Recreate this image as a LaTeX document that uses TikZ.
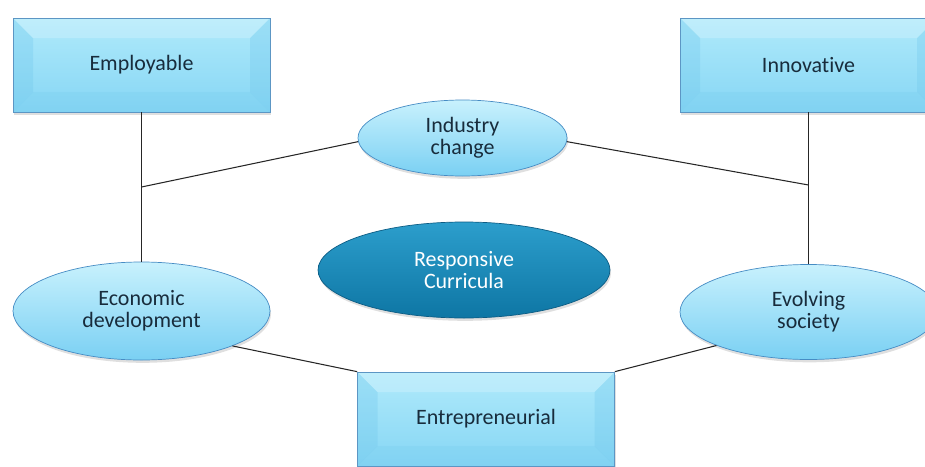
\documentclass[tikz,border=0pt]{standalone}
\usepackage{fontspec}
\setmainfont{Carlito}[Ligatures=CommonOff]
\usetikzlibrary{shapes.geometric,shadows}

\newcommand{\varbev}{0.4}
\definecolor{boxtop}{RGB}{176,234,251}
\definecolor{boxbot}{RGB}{134,214,244}
\definecolor{boxside}{RGB}{110,198,236}
\definecolor{boxedge}{RGB}{92,150,196}
\definecolor{elltop}{RGB}{200,241,253}
\definecolor{ellbot}{RGB}{122,208,243}
\definecolor{elledge}{RGB}{70,140,196}
\definecolor{coretop}{RGB}{44,158,204}
\definecolor{corebot}{RGB}{14,118,164}
\definecolor{coreedge}{RGB}{12,92,132}
\definecolor{labeltext}{RGB}{24,44,60}

\tikzset{
	goalbox/.style={rectangle, minimum width=5.14cm, minimum height=1.88cm,
		draw=boxedge, thin, top color=boxtop, bottom color=boxbot,
		text=labeltext, font=\fontsize{12.5}{12.5}\selectfont,
		drop shadow={opacity=.25, shadow xshift=.6pt, shadow yshift=-1.6pt},
		path picture={
			% bevel sides
			\fill[boxside, opacity=.3] (path picture bounding box.north west) -- ++(\varbev,-\varbev)
				-- ([shift={(\varbev,\varbev)}]path picture bounding box.south west)
				-- (path picture bounding box.south west) -- cycle;
			\fill[boxside, opacity=.3] (path picture bounding box.north east) -- ++(-\varbev,-\varbev)
				-- ([shift={(-\varbev,\varbev)}]path picture bounding box.south east)
				-- (path picture bounding box.south east) -- cycle;
			\fill[white, opacity=.2] (path picture bounding box.north west) -- ++(\varbev,-\varbev)
				-- ([shift={(-\varbev,-\varbev)}]path picture bounding box.north east)
				-- (path picture bounding box.north east) -- cycle;
			\fill[boxside, opacity=.2] (path picture bounding box.south west) -- ++(\varbev,\varbev)
				-- ([shift={(-\varbev,\varbev)}]path picture bounding box.south east)
				-- (path picture bounding box.south east) -- cycle;
		}},
	driver/.style={ellipse, inner sep=0pt, draw=elledge, thin,
		top color=elltop, bottom color=ellbot, text=labeltext, align=center,
		font=\fontsize{12.5}{12.5}\selectfont,
		drop shadow={opacity=.25, shadow xshift=.6pt, shadow yshift=-1.6pt}},
	core/.style={ellipse, inner sep=0pt, draw=coreedge, thin,
		top color=coretop, bottom color=corebot, text=white, align=center,
		font=\fontsize{12.5}{12.5}\selectfont,
		drop shadow={opacity=.25, shadow xshift=.6pt, shadow yshift=-1.6pt}},
	link/.style={draw=black!85, line width=.6pt}
}

\begin{document}
\begin{tikzpicture}

	\useasboundingbox (0,0) rectangle (18.5,-9.32);

	% outcomes
	\node [goalbox] (emp) at (2.83,-1.30) {Employable};
	\node [goalbox] (inn) at (16.17,-1.30) {Innovative};
	\node [goalbox] (ent) at (9.72,-8.38) {Entrepreneurial};

	% drivers
	\node [driver, minimum width=4.18cm, minimum height=1.52cm] (ind) at (9.25,-2.76) {Industry\\change};
	\node [driver, minimum width=5.14cm, minimum height=1.96cm] (eco) at (2.83,-6.22) {Economic\\development};
	\node [driver, minimum width=5.14cm, minimum height=1.90cm] (evo) at (16.17,-6.24) {Evolving\\society};

	\node [core, minimum width=5.84cm, minimum height=1.92cm] (res) at (9.28,-5.40) {Responsive\\Curricula};

	% junctions
	\coordinate (jl) at (2.83,-3.74);
	\coordinate (jr) at (16.17,-3.70);

	% lines
	\draw [link] (emp.south) -- (eco.north);
	\draw [link] (inn.south) -- (evo.north);
	\draw [link] (jl) -- (ind.182);
	\draw [link] (ind.-2) -- (jr);
	\draw [link] (eco.-21) -- (ent.north west);
	\draw [link] (evo.-160) -- (ent.north east);

\end{tikzpicture}
\end{document}
